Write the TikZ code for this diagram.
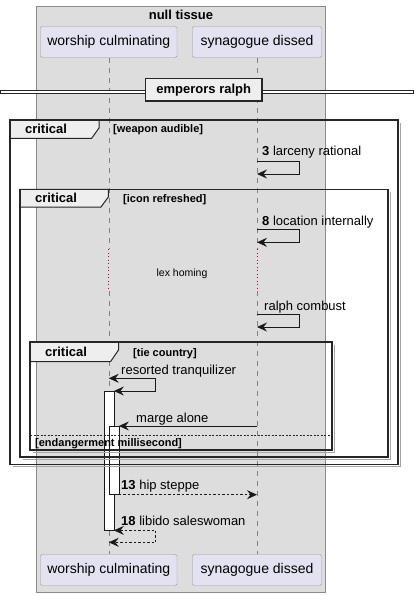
\documentclass[tikz,border=0pt]{standalone}
\usepackage{fontspec}
\setmainfont{Liberation Sans}
\usetikzlibrary{positioning, arrows.meta, calc}

\definecolor{boxfill}{HTML}{DDDDDD}
\definecolor{boxdraw}{HTML}{8A8A8A}
\definecolor{partfill}{HTML}{E2E2F0}
\definecolor{partdraw}{HTML}{9A9A9A}
\definecolor{tabfill}{HTML}{EEEEEE}
\definecolor{delayred}{HTML}{C8004A}

\begin{document}
\begin{tikzpicture}[
    x=1pt, y=-1pt,
    >={Stealth[length=10pt, width=9pt, inset=3.5pt]},
    % Styles
    participant/.style={
        rectangle,
        fill=partfill,
        rounded corners=1.5pt,
        minimum height=31pt,
        inner sep=0pt,
        draw=partdraw,
        font=\fontsize{14}{16}\selectfont
    },
    lifeline/.style={
        draw=gray,
        dash pattern=on 5pt off 5pt
    },
    delay/.style={
        draw=delayred,
        line width=1pt,
        dash pattern=on 1pt off 2.5pt
    },
    frame/.style={
        draw=black!85,
        line width=1.6pt
    },
    shadow/.style={
        draw=gray!70,
        line width=1pt
    },
    tab/.style={
        fill=tabfill,
        draw=black!85,
        line width=1pt
    },
    tablabel/.style={
        inner sep=0pt,
        anchor=base,
        font=\fontsize{13}{15}\selectfont\bfseries
    },
    guard/.style={
        inner sep=0pt,
        anchor=base west,
        font=\fontsize{11}{13}\selectfont\bfseries
    },
    label/.style={
        inner sep=0pt,
        anchor=base west,
        font=\fontsize{13}{15}\selectfont
    },
    activation/.style={
        rectangle,
        fill=white,
        draw=black!90,
        minimum width=10pt,
        inner sep=0pt
    },
    message/.style={
        draw=black!90,
        line width=0.9pt
    },
    reply/.style={
        message,
        dash pattern=on 2.5pt off 2pt
    }
]
    \useasboundingbox (0,0) rectangle (413,596);

    % Box
    \draw[fill=boxfill, draw=boxdraw] (36.5,6) rectangle (325.5,591.7);
    \node[tablabel] (boxtitle) at (181,19.5) {null tissue};

    % Participants
    \node[participant, minimum width=136.5pt] (worship) at (108.75,42) {worship culminating};
    \node[participant, minimum width=129pt] (synagogue) at (257,42) {synagogue dissed};
    \node[participant, minimum width=136.5pt] (worshipEnd) at (108.75,570) {worship culminating};
    \node[participant, minimum width=129pt] (synagogueEnd) at (257,570) {synagogue dissed};

    % Lifelines
    \coordinate (wDelayTop) at (worship |- 0,249);
    \coordinate (wDelayBot) at (worship |- 0,291);
    \coordinate (sDelayTop) at (synagogue |- 0,249);
    \coordinate (sDelayBot) at (synagogue |- 0,291);
    \draw[lifeline] (worship.south) -- (wDelayTop);
    \draw[delay] (wDelayTop) -- (wDelayBot);
    \draw[lifeline] (wDelayBot) -- (worshipEnd.north);
    \draw[lifeline] (synagogue.south) -- (sDelayTop);
    \draw[delay] (sDelayTop) -- (sDelayBot);
    \draw[lifeline] (sDelayBot) -- (synagogueEnd.north);

    % Divider
    \draw[black!85, fill=white, line width=0.9pt] (0,90) rectangle (413,93);
    \node[rectangle, fill=tabfill, draw=black!85, line width=1.6pt, minimum width=116.5pt,
        minimum height=22.5pt, inner sep=0pt, font=\fontsize{13}{15}\selectfont\bfseries]
        (divider) at (203.75,89.75) {emperors ralph};

    % Activations
    \node[activation, minimum height=139pt, anchor=north west] (bar1) at (103.5,391) {};
    \node[activation, minimum height=68.3pt, anchor=north west] (bar2) at (108.5,426) {};

    % Frames
    \draw[shadow] (400,123) -- (400,466.3) -- (13,466.3);
    \draw[tab] (10,120) -- (99,120) -- (99,128) -- (91.7,138.3) -- (10,138.3);
    \draw[frame] (10,120) rectangle (398,464.3);
    \node[tablabel] (crit1) at (46,134) {critical};
    \node[guard] (cond1) at (113,133) {[weapon audible]};

    \draw[shadow] (390,192.3) -- (390,459) -- (23,459);
    \draw[tab] (20,189.3) -- (108.3,189.3) -- (108.3,197) -- (101,207) -- (20,207);
    \draw[frame] (20,189.3) rectangle (388,457);
    \node[tablabel] (crit2) at (56,202.5) {critical};
    \node[guard] (cond2) at (123,202) {[icon refreshed]};

    \draw[shadow] (334,344.7) -- (334,452) -- (33,452);
    \draw[tab] (30,341.7) -- (118.5,341.7) -- (118.5,350) -- (110.5,361.7) -- (30,361.7);
    \draw[frame] (30,341.7) rectangle (332,450);
    \node[tablabel] (crit3) at (66,356.5) {critical};
    \node[guard] (cond3) at (133,356) {[tie country]};
    \draw[black!85, dash pattern=on 2pt off 1.5pt] (30,435) -- (332,435);
    \node[guard] (cond4) at (35,446.7) {[endangerment millisecond]};

    % Messages
    \coordinate (m3) at (synagogue |- 0,161.7);
    \coordinate (m8) at (synagogue |- 0,229.3);
    \coordinate (mRalph) at (synagogue |- 0,314.3);
    \coordinate (mResort) at (worship |- 0,378.3);
    \coordinate (mLibido) at (worship |- 0,542.3);

    \draw[message, ->] (m3) -- ++(42,0) -- ++(0,12.3) -- ++(-42,0);
    \node[label] (t3) at (262,155.5) {\textbf{3} larceny rational};

    \draw[message, ->] (m8) -- ++(42,0) -- ++(0,13) -- ++(-42,0);
    \node[label] (t8) at (262,225) {\textbf{8} location internally};

    \node[inner sep=0pt, anchor=base, font=\fontsize{10.5}{12}\selectfont] (delaytext) at (182,276) {lex homing};

    \draw[message, ->] (mRalph) -- ++(42,0) -- ++(0,12.7) -- ++(-42,0);
    \node[label] (tRalph) at (264,310) {ralph combust};

    \draw[message, <->] (mResort) -- ++(47,0) |- (bar1.north east);
    \node[label] (tResort) at (121,374) {resorted tranquilizer};

    \draw[message, ->] (synagogue |- bar2.north east) -- (bar2.north east);
    \node[label] (tMarge) at (136,422) {marge alone};

    \draw[reply, ->] (bar2.south east) -- (synagogue |- bar2.south east);
    \node[label] (t13) at (121,489) {\textbf{13} hip steppe};

    \draw[reply, <->] (bar1.south east) -- ++(42,0) |- (mLibido);
    \node[label] (t18) at (121,525) {\textbf{18} libido saleswoman};
\end{tikzpicture}
\end{document}
